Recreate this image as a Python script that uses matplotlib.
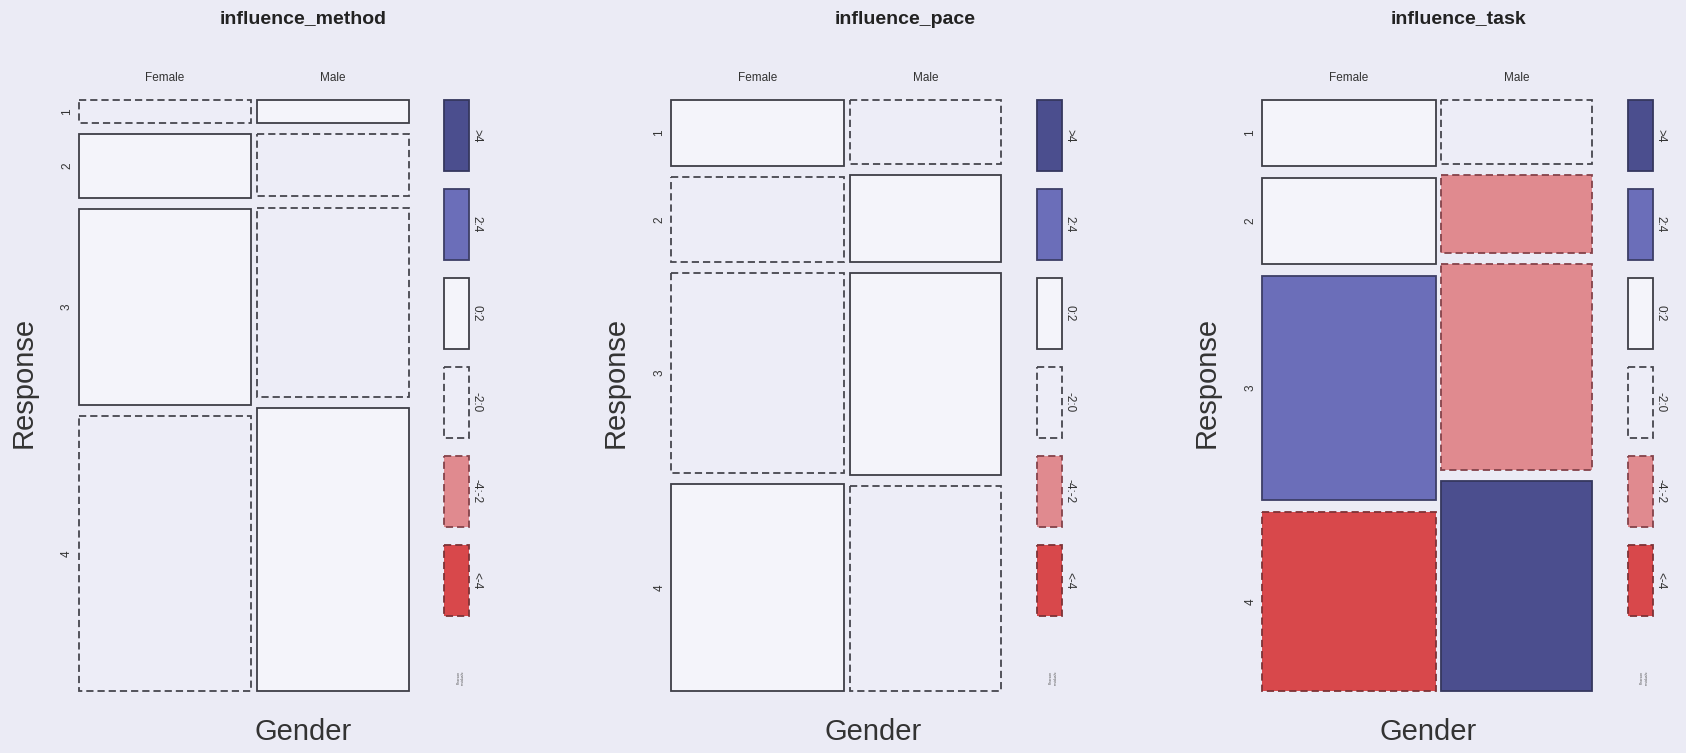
import numpy as np
import matplotlib.pyplot as plt
from matplotlib.patches import Rectangle

plt.rcParams['font.family'] = ['Liberation Sans', 'DejaVu Sans']

# Data
titles = ['influence_method', 'influence_pace', 'influence_task']
genders = ['Female', 'Male']
responses = ['1', '2', '3', '4']

# share of respondents that are female (column widths)
female_share = [0.533, 0.534, 0.536]

# conditional proportions of each response within gender
method_female = [0.041, 0.115, 0.351, 0.493]
method_male = [0.041, 0.112, 0.340, 0.507]
pace_female = [0.118, 0.153, 0.358, 0.371]
pace_male = [0.115, 0.156, 0.361, 0.368]
task_female = [0.119, 0.156, 0.403, 0.322]
task_male = [0.114, 0.140, 0.369, 0.377]

# Pearson residuals (estimated from the shading)
method_resid_female = [-0.3, 0.3, 0.4, -0.3]
method_resid_male = [0.3, -0.3, -0.4, 0.3]
pace_resid_female = [0.2, -0.2, -0.2, 0.2]
pace_resid_male = [-0.2, 0.2, 0.2, -0.2]
task_resid_female = [0.8, 1.5, 2.6, -4.3]
task_resid_male = [-0.9, -2.3, -2.8, 4.6]

legend_labels = ['>4', '2:4', '0:2', '-2:0', '-4:-2', '<-4']
legend_resid = [5, 3, 1, -1, -3, -5]

props = [(method_female, method_male), (pace_female, pace_male), (task_female, task_male)]
resids = [(method_resid_female, method_resid_male),
          (pace_resid_female, pace_resid_male),
          (task_resid_female, task_resid_male)]

BG = '#ebebf5'
W, H = 1686, 753


def shade(r):
    """fill colour, edge colour and line style for a residual"""
    if r > 4:
        return '#4b4e8e', '#35375e', '-'
    if r > 2:
        return '#6b6eb9', '#3c3e66', '-'
    if r >= 0:
        return '#f4f4fa', '#3e3e46', '-'
    if r > -2:
        return '#ededf7', '#46464e', (0, (4, 2.2))
    if r > -4:
        return '#e08a8f', '#84424a', (0, (4, 2.2))
    return '#d8484b', '#7e3236', (0, (4, 2.2))


def px_axes(fig, x0, y0, x1, y1):
    # axes from pixel box (top-left origin)
    return fig.add_axes([x0 / W, 1 - y1 / H, (x1 - x0) / W, (y1 - y0) / H])


fig = plt.figure(figsize=(W / 100, H / 100), dpi=100)
fig.patch.set_facecolor(BG)

lefts = [78.5, 671, 1262]
title_x = [303, 905, 1458]
xlab_x = [303, 873, 1428]
top, bottom = 100, 691
mosaic_w = 330
gap_x = 0.017
gap_y = 0.019

for k in range(3):
    left = lefts[k]
    ax = px_axes(fig, left, top, left + mosaic_w, bottom)
    ax.set_xlim(0, 1)
    ax.set_ylim(1, 0)
    ax.axis('off')

    widths = [female_share[k] * (1 - gap_x), (1 - female_share[k]) * (1 - gap_x)]
    xs = [0, widths[0] + gap_x]
    for g in range(2):
        p = np.array(props[k][g])
        h = p / p.sum() * (1 - 3 * gap_y)
        y = 0
        for i in range(4):
            fc, ec, ls = shade(resids[k][g][i])
            ax.add_patch(Rectangle((xs[g], y), widths[g], h[i], facecolor=fc,
                                   edgecolor=ec, linestyle=ls, linewidth=1.3,
                                   clip_on=False))
            if g == 0:
                ax.text(-0.035, y + h[i] / 2, responses[i], rotation=90,
                        ha='center', va='center', fontsize=8.5, color='#333333')
            y += h[i] + gap_y
        ax.text(xs[g] + widths[g] / 2, -0.037, genders[g], ha='center',
                va='center', fontsize=8.5, color='#333333')

    # title and axis labels
    fig.text(title_x[k] / W, 1 - 19 / H, titles[k], ha='center', va='center',
             fontsize=14, fontweight='bold', color='#222222')
    fig.text(xlab_x[k] / W, 1 - 732 / H, 'Gender', ha='center', va='center',
             fontsize=21, color='#333333')
    fig.text((left - 55) / W, 1 - 382 / H, 'Response', ha='center', va='center',
             fontsize=21, rotation=90, color='#333333')

    # shading legend
    lax = px_axes(fig, left + 365.5, top, left + 391, bottom)
    lax.set_xlim(0, 1)
    lax.set_ylim(bottom - top, 0)
    lax.axis('off')
    box_h, box_gap = 71, 18
    for j, lab in enumerate(legend_labels):
        fc, ec, ls = shade(legend_resid[j])
        y0 = j * (box_h + box_gap)
        lax.add_patch(Rectangle((0, y0), 1, box_h, facecolor=fc, edgecolor=ec,
                                linestyle=ls, linewidth=1.3, clip_on=False))
        lax.text(1.28, y0 + box_h / 2, lab, rotation=270, ha='center',
                 va='center', fontsize=8.5, color='#333333')
    lax.text(0.65, 577, 'Pearson\nresiduals:', rotation=90, ha='center',
             va='center', fontsize=2.5, color='#555555')

fig.savefig('out.png', dpi=100, facecolor=BG)
